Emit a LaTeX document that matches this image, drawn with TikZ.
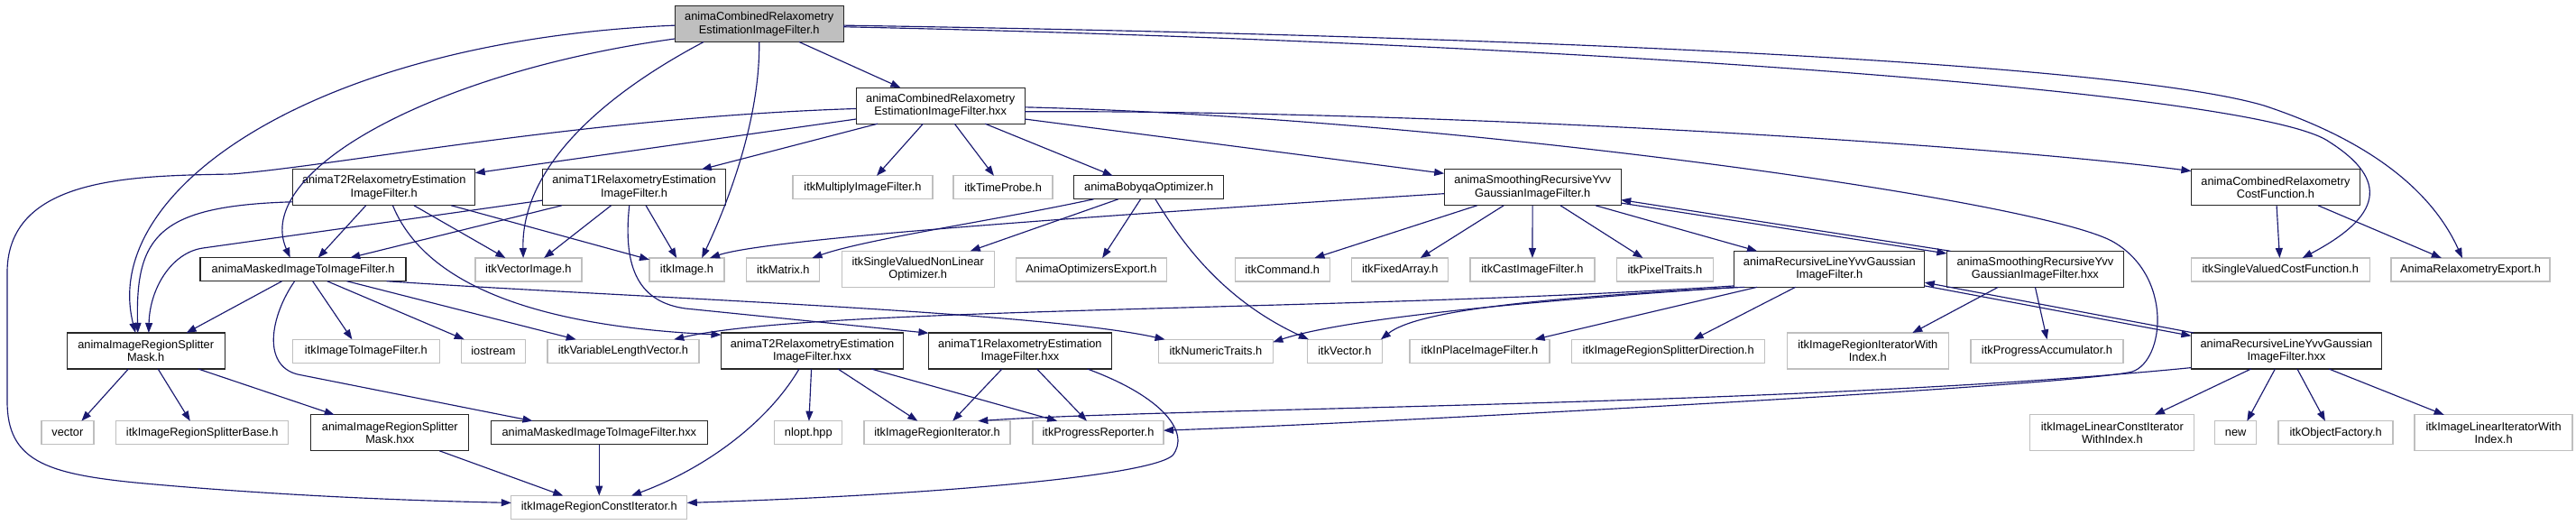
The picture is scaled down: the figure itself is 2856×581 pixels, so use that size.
\documentclass[tikz,border=0pt]{standalone}
\usepackage{fontspec}
\setmainfont{Liberation Sans}
\usetikzlibrary{arrows.meta}
\definecolor{edgecol}{HTML}{191970}
\definecolor{extcol}{HTML}{BFBFBF}
\definecolor{rootfill}{HTML}{BFBFBF}
\begin{document}
\begin{tikzpicture}[x=1pt,y=-1pt,
 box/.style={rectangle, inner sep=0pt, outer sep=0pt, line width=1.3pt, align=center, font=\fontsize{12.8}{14.4}\selectfont, fill=white},
 anima/.style={box, draw=black!85},
 ext/.style={box, draw=extcol},
 rootst/.style={box, draw=black!85, fill=rootfill},
 edge/.style={draw=edgecol, line width=1.15pt, -{Triangle[length=11pt,width=8pt]}}]
\fill[white] (0,0) rectangle (2856,581);
\useasboundingbox (0,0) rectangle (2856,581);
% row 1-2
\node[rootst, minimum width=187pt, minimum height=40pt] (root) at (841.7,26.5) {animaCombinedRelaxometry\\EstimationImageFilter.h};
\node[anima, minimum width=187pt, minimum height=40pt] (hxx) at (1042.7,117.2) {animaCombinedRelaxometry\\EstimationImageFilter.hxx};
% row 3
\node[anima, minimum width=202pt, minimum height=40pt] (t2h) at (425.7,207.8) {animaT2RelaxometryEstimation\\ImageFilter.h};
\node[anima, minimum width=203pt, minimum height=40pt] (t1h) at (703.1,207.8) {animaT1RelaxometryEstimation\\ImageFilter.h};
\node[ext, minimum width=155pt, minimum height=26pt] (mult) at (956.5,207.8) {itkMultiplyImageFilter.h};
\node[ext, minimum width=110pt, minimum height=26pt] (tprobe) at (1112.1,207.8) {itkTimeProbe.h};
\node[anima, minimum width=166pt, minimum height=26pt] (boby) at (1273.7,207.8) {animaBobyqaOptimizer.h};
\node[anima, minimum width=196pt, minimum height=40pt] (smh) at (1699.2,207.8) {animaSmoothingRecursiveYvv\\GaussianImageFilter.h};
\node[anima, minimum width=187pt, minimum height=40pt] (cf) at (2522.9,207.8) {animaCombinedRelaxometry\\CostFunction.h};
% row 4
\node[anima, minimum width=228pt, minimum height=26pt] (masked) at (336.1,298.7) {animaMaskedImageToImageFilter.h};
\node[ext, minimum width=118pt, minimum height=26pt] (vimg) at (585.9,299) {itkVectorImage.h};
\node[ext, minimum width=83pt, minimum height=26pt] (img) at (761.5,299) {itkImage.h};
\node[ext, minimum width=81pt, minimum height=26pt] (mat) at (868.3,299) {itkMatrix.h};
\node[ext, minimum width=169pt, minimum height=40pt] (svnlo) at (1017.7,298.3) {itkSingleValuedNonLinear\\Optimizer.h};
\node[ext, minimum width=167pt, minimum height=26pt] (aoe) at (1210,299) {AnimaOptimizersExport.h};
\node[ext, minimum width=105pt, minimum height=26pt] (cmd) at (1421.7,299) {itkCommand.h};
\node[ext, minimum width=107pt, minimum height=26pt] (farr) at (1552.2,299) {itkFixedArray.h};
\node[ext, minimum width=138pt, minimum height=26pt] (cast) at (1698.9,299) {itkCastImageFilter.h};
\node[ext, minimum width=107pt, minimum height=26pt] (ptr) at (1845.9,299) {itkPixelTraits.h};
\node[anima, minimum width=211pt, minimum height=40pt] (rlh) at (2028.3,298.3) {animaRecursiveLineYvvGaussian\\ImageFilter.h};
\node[anima, minimum width=196pt, minimum height=40pt] (smhxx) at (2256.4,298.3) {animaSmoothingRecursiveYvv\\GaussianImageFilter.hxx};
\node[ext, minimum width=198pt, minimum height=26pt] (svcf) at (2528.2,299) {itkSingleValuedCostFunction.h};
\node[ext, minimum width=176pt, minimum height=26pt] (are) at (2739,299) {AnimaRelaxometryExport.h};
% row 5
\node[anima, minimum width=175pt, minimum height=40pt] (sm) at (161.7,389) {animaImageRegionSplitter\\Mask.h};
\node[ext, minimum width=163pt, minimum height=26pt] (itif) at (405.9,389.3) {itkImageToImageFilter.h};
\node[ext, minimum width=71pt, minimum height=26pt] (ios) at (546.9,389.3) {iostream};
\node[ext, minimum width=168pt, minimum height=26pt] (vlv) at (690.9,389.3) {itkVariableLengthVector.h};
\node[anima, minimum width=202pt, minimum height=40pt] (t2hxx) at (900.5,389) {animaT2RelaxometryEstimation\\ImageFilter.hxx};
\node[anima, minimum width=203pt, minimum height=40pt] (t1hxx) at (1130.9,389) {animaT1RelaxometryEstimation\\ImageFilter.hxx};
\node[ext, minimum width=127pt, minimum height=26pt] (nt) at (1347.9,389.3) {itkNumericTraits.h};
\node[ext, minimum width=83pt, minimum height=26pt] (vec) at (1490.9,389.3) {itkVector.h};
\node[ext, minimum width=155pt, minimum height=26pt] (ipif) at (1640.4,389.3) {itkInPlaceImageFilter.h};
\node[ext, minimum width=214pt, minimum height=26pt] (isd) at (1849.7,389.3) {itkImageRegionSplitterDirection.h};
\node[ext, minimum width=179pt, minimum height=40pt] (iriwi) at (2070.8,389) {itkImageRegionIteratorWith\\Index.h};
\node[ext, minimum width=169pt, minimum height=26pt] (pacc) at (2269.5,389.3) {itkProgressAccumulator.h};
\node[anima, minimum width=211pt, minimum height=40pt] (rlhxx) at (2534.9,389) {animaRecursiveLineYvvGaussian\\ImageFilter.hxx};
% row 6
\node[ext, minimum width=58pt, minimum height=26pt] (vectr) at (74.9,479.7) {vector};
\node[ext, minimum width=191pt, minimum height=26pt] (sbase) at (224.3,479.7) {itkImageRegionSplitterBase.h};
\node[anima, minimum width=175pt, minimum height=40pt] (smxx) at (432.3,479.8) {animaImageRegionSplitter\\Mask.hxx};
\node[anima, minimum width=240pt, minimum height=26pt] (mhxx) at (664.3,479.7) {animaMaskedImageToImageFilter.hxx};
\node[ext, minimum width=75pt, minimum height=26pt] (nlopt) at (896.3,479.7) {nlopt.hpp};
\node[ext, minimum width=162pt, minimum height=26pt] (iri) at (1039,479.7) {itkImageRegionIterator.h};
\node[ext, minimum width=145pt, minimum height=26pt] (prep) at (1217.5,479.7) {itkProgressReporter.h};
\node[ext, minimum width=182pt, minimum height=40pt] (ilc) at (2341.8,479.8) {itkImageLinearConstIterator\\WithIndex.h};
\node[ext, minimum width=46pt, minimum height=26pt] (newh) at (2478.7,479.7) {new};
\node[ext, minimum width=127pt, minimum height=26pt] (ofac) at (2589.6,479.7) {itkObjectFactory.h};
\node[ext, minimum width=175pt, minimum height=40pt] (iliwi) at (2764.6,479.8) {itkImageLinearIteratorWith\\Index.h};
% row 7
\node[ext, minimum width=195pt, minimum height=26pt] (rci) at (664.3,562.5) {itkImageRegionConstIterator.h};

% ---- edges from root
\draw[edge] (root) -- (hxx);
\draw[edge] (root.south) .. controls (843,140) and (800,240) .. (img.38);
\draw[edge] (root.198) .. controls (660,110) and (578,190) .. (vimg.114);
\draw[edge] (root.190) .. controls (480,80) and (280,190) .. (masked.138);
\draw[edge] (root.181) .. controls (350,45) and (110,210) .. (sm.120);
\draw[edge] (root.358) .. controls (1700,46) and (2500,100) .. (2582,157) .. controls (2650,200) and (2640,240) .. (svcf.28);
\draw[edge] (root.359) .. controls (1700,40) and (2350,70) .. (2510,117) .. controls (2640,160) and (2700,220) .. (are.125);
% ---- edges from hxx
\draw[edge] (hxx.189) -- (t2h.9);
\draw[edge] (hxx.196) -- (t1h.15);
\draw[edge] (hxx.182) .. controls (650,130) and (380,183) .. (257,193) .. controls (150,195) and (10,195) .. (8,300) -- (8,445) .. controls (8,510) and (50,525) .. (150,535) .. controls (300,549) and (450,555) .. (rci.177);
\draw[edge] (hxx.226) -- (mult.40);
\draw[edge] (hxx.308) -- (tprobe.128);
\draw[edge] (hxx.338) -- (boby.162);
\draw[edge] (hxx.351) -- (smh.171);
\draw[edge] (hxx.356) .. controls (1600,122) and (2200,160) .. (cf.169);
\draw[edge] (hxx.359) .. controls (1600,130) and (2250,220) .. (2341,267) .. controls (2410,305) and (2400,400) .. (2364,412) .. controls (2300,428) and (1500,470) .. (prep.2);
% ---- T2 .h
\draw[edge] (t2h.189) .. controls (175,228) and (150,262) .. (sm.114);
\draw[edge] (t2h.225) -- (masked.38);
\draw[edge] (t2h.329) -- (vimg.153);
\draw[edge] (t2h.345) -- (img.165);
\draw[edge] (t2h.296) .. controls (465,300) and (560,360) .. (t2hxx.170);
% ---- T1 .h
\draw[edge] (t1h.188) -- (225,275) .. controls (190,280) and (166,320) .. (sm.81);
\draw[edge] (t1h.194) -- (masked.14);
\draw[edge] (t1h.218) -- (vimg.37);
\draw[edge] (t1h.303) -- (img.131);
\draw[edge] (t1h.255) .. controls (690,300) and (710,335) .. (760,342) -- (t1hxx.169);
% ---- masked .h
\draw[edge] (masked.209) -- (sm.24);
\draw[edge] (masked.234) .. controls (300,350) and (290,405) .. (330,415) -- (mhxx.170);
\draw[edge] (masked.309) -- (itif.140);
\draw[edge] (masked.334) -- (ios.158);
\draw[edge] (masked.345) -- (vlv.166);
\draw[edge] (masked.352) .. controls (700,330) and (1150,345) .. (nt.167);
% ---- splitter mask
\draw[edge] (sm.226) -- (vectr.40);
\draw[edge] (sm.304) -- (sbase.136);
\draw[edge] (sm.341) -- (smxx.162);
\draw[edge] (smxx.340) -- (rci.162);
\draw[edge] (mhxx) -- (rci);
% ---- T2 / T1 hxx
\draw[edge] (t2hxx.234) .. controls (850,470) and (780,520) .. (rci.20);
\draw[edge] (t2hxx) -- (nlopt);
\draw[edge] (t2hxx.325) -- (iri.149);
\draw[edge] (t2hxx.343) -- (prep.164);
\draw[edge] (t1hxx.225) -- (iri.37);
\draw[edge] (t1hxx.313) -- (prep.134);
\draw[edge] (t1hxx.345) .. controls (1290,440) and (1320,480) .. (1300,505) .. controls (1270,530) and (1000,550) .. (rci.3);
% ---- bobyqa
\draw[edge] (boby.192) .. controls (1100,245) and (960,265) .. (mat.22);
\draw[edge] (boby.201) -- (svnlo.19);
\draw[edge] (boby.235) -- (aoe.47);
\draw[edge] (boby.299) .. controls (1305,260) and (1350,330) .. (vec.162);
% ---- smoothing .h
\draw[edge] (smh.184) .. controls (1200,240) and (850,265) .. (img.27);
\draw[edge] (smh.198) -- (cmd.20);
\draw[edge] (smh.212) -- (farr.30);
\draw[edge] (smh) -- (cast);
\draw[edge] (smh.327) -- (ptr.152);
\draw[edge] (smh.344) -- (rlh.166);
\draw[edge] (smh.350) -- (smhxx.170);
\draw[edge] (smhxx.168) -- (smh.352);
% ---- recursive line .h
\draw[edge] (rlh.350) -- (rlhxx.171);
\draw[edge] (rlhxx.169) -- (rlh.352);
\draw[edge] (rlh.190) .. controls (1500,345) and (900,340) .. (vlv.13);
\draw[edge] (rlh.191) .. controls (1750,330) and (1500,350) .. (nt.9);
\draw[edge] (rlh.192) .. controls (1700,330) and (1570,345) .. (vec.18);
\draw[edge] (rlh.194) -- (ipif.12);
\draw[edge] (rlh.208) -- (isd.25);
% ---- smoothing .hxx
\draw[edge] (smhxx.206) -- (iriwi.22);
\draw[edge] (smhxx.south) -- (pacc.north);
% ---- recursive line .hxx
\draw[edge] (rlhxx.190) .. controls (2000,450) and (1300,452) .. (iri.16);
\draw[edge] (rlhxx.207) -- (ilc.23);
\draw[edge] (rlhxx.238) -- (newh.46);
\draw[edge] (rlhxx.301) -- (ofac.132);
\draw[edge] (rlhxx.337) -- (iliwi.160);
% ---- cost function
\draw[edge] (cf) -- (svcf);
\draw[edge] (cf.337) -- (are.158);
\end{tikzpicture}
\end{document}
